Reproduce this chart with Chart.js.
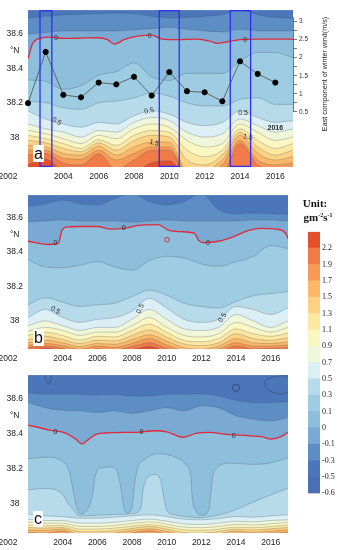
<!DOCTYPE html>
<html>
<head>
<meta charset="utf-8">
<script src="https://cdn.jsdelivr.net/npm/chart.js@4.4.1/dist/chart.umd.min.js"></script>
<style>
  body { margin: 0; background: #fff; }
  #wrap { position: relative; width: 338px; height: 550px; overflow: hidden; font-family: 'Liberation Sans', Arial, sans-serif; }
  canvas { position: absolute; }
  .tag { position: absolute; background: #fff; font-size: 16px; line-height: 17px; padding: 0 1px; color: #111; }
  .unit { position: absolute; font-family: 'Liberation Serif', 'Times New Roman', serif; font-weight: bold; font-size: 11px; color: #111; transform: translate(-50%, -50%); white-space: nowrap; }
  .unit sup { font-size: 6px; vertical-align: 4px; }
  #windTitle { position: absolute; left: 324px; top: 74px; font-size: 7.2px; color: #222; white-space: nowrap; transform: translate(-50%, -50%) rotate(-90deg); }
</style>
</head>
<body>
<div id="wrap">
  <canvas id="chartA" width="338" height="185" style="left:0;top:0"></canvas>
  <canvas id="chartB" width="293" height="180" style="left:0;top:185px"></canvas>
  <canvas id="chartC" width="293" height="185" style="left:0;top:365px"></canvas>
  <canvas id="cbar" width="38" height="275" style="left:300px;top:225px"></canvas>
  <div class="tag" style="left:33px;top:145px">a</div>
  <div class="tag" style="left:33px;top:329px">b</div>
  <div class="tag" style="left:33px;top:511px;line-height:16px">c</div>
  <div id="windTitle">East component of winter wind(m/s)</div>
  <div class="unit" style="left:315px;top:203px">Unit:</div>
  <div class="unit" style="left:318px;top:217px">gm<sup>-2</sup>s<sup>-1</sup></div>
</div>
<script>
// ---------- data ----------
var years = [2002, 2003, 2004, 2005, 2006, 2007, 2008, 2009, 2010, 2011, 2012, 2013, 2014, 2015, 2016, 2017];
var yearTicks = [2002, 2004, 2006, 2008, 2010, 2012, 2014, 2016];
var latTicks = [38, 38.2, 38.4, 38.5, 38.6];

var windYears = [2002, 2003, 2004, 2005, 2006, 2007, 2008, 2009, 2010, 2011, 2012, 2013, 2014, 2015, 2016];
var windSpeed = [0.74, 2.16, 0.97, 0.90, 1.31, 1.26, 1.47, 0.95, 1.60, 1.07, 1.04, 0.79, 1.90, 1.55, 1.31];
var windTicks = [0.5, 0.75, 1, 1.25, 1.5, 1.75, 2, 2.25, 2.5, 2.75, 3];
var ensoSpans = [[2002.68, 2003.35], [2009.43, 2010.56], [2013.45, 2014.6]];

var cbarLabels = ['-0.6', '-0.5', '-0.3', '-0.1', '0', '0.1', '0.3', '0.5', '0.7', '0.9', '1.1', '1.3', '1.5', '1.7', '1.9', '2.2'];

// panel a: latitude of each contour level per year
var aM03 = [38.688, 38.697, 38.705, 38.708, 38.712, 38.716, 38.712, 38.697, 38.688, 38.690, 38.697, 38.706, 38.735, 38.706, 38.690, 38.686];
var aM01 = [38.594, 38.604, 38.613, 38.613, 38.613, 38.613, 38.619, 38.626, 38.632, 38.622, 38.613, 38.607, 38.622, 38.613, 38.613, 38.613];
var aZeroX = [2002, 2002.25, 2002.7, 2003.3, 2004, 2005, 2006, 2006.5, 2006.9, 2007.5, 2008.3, 2009, 2009.6, 2010.5, 2011.5, 2012.3, 2012.7, 2013.3, 2014, 2015, 2016, 2017];
var aZero = [38.454, 38.538, 38.570, 38.578, 38.570, 38.572, 38.574, 38.563, 38.538, 38.566, 38.585, 38.589, 38.566, 38.563, 38.566, 38.555, 38.542, 38.551, 38.563, 38.566, 38.566, 38.566];
var aP01 = [38.333, 38.324, 38.28, 38.30, 38.36, 38.38, 38.43, 38.35, 38.33, 38.37, 38.37, 38.37, 38.44, 38.49, 38.49, 38.46];
var aP03 = [38.212, 38.202, 38.174, 38.165, 38.202, 38.212, 38.230, 38.258, 38.240, 38.202, 38.184, 38.184, 38.221, 38.230, 38.193, 38.193];
var aP05 = [38.156, 38.109, 38.081, 38.062, 38.090, 38.081, 38.128, 38.156, 38.137, 38.090, 38.072, 38.090, 38.156, 38.118, 38.090, 38.100];
var aP07 = [38.081, 38.053, 38.034, 38.006, 38.044, 38.034, 38.090, 38.118, 38.100, 38.034, 38.006, 38.025, 38.109, 38.072, 38.034, 38.053];
var aP09 = [38.044, 38.025, 37.997, 37.969, 38.016, 37.997, 38.053, 38.081, 38.062, 37.987, 37.950, 37.969, 38.081, 38.034, 37.987, 38.006];
var aP11 = [38.016, 37.997, 37.969, 37.941, 37.991, 37.959, 38.016, 38.044, 38.034, 37.931, 37.894, 37.931, 38.053, 37.987, 37.941, 37.969];
var aP13 = [37.987, 37.973, 37.941, 37.922, 37.973, 37.931, 37.987, 38.016, 38.006, 37.875, 37.847, 37.903, 38.034, 37.950, 37.903, 37.931];
var aP15 = [37.959, 37.950, 37.913, 37.903, 37.954, 37.903, 37.950, 37.978, 37.978, 37.82, 37.82, 37.875, 38.016, 37.913, 37.875, 37.894];
var aP17 = [37.931, 37.931, 37.885, 37.879, 37.931, 37.875, 37.913, 37.950, 37.950, 37.80, 37.80, 37.847, 37.987, 37.875, 37.847, 37.857];
var aP19 = [37.903, 37.913, 37.857, 37.847, 37.910, 37.82, 37.875, 37.931, 37.931, 37.79, 37.79, 37.80, 37.969, 37.847, 37.82, 37.82];
var aP22 = [37.85, 37.88, 37.81, 37.79, 37.80, 37.78, 37.80, 37.86, 37.87, 37.78, 37.78, 37.78, 37.78, 37.78, 37.78, 37.78];

// panel b
var bM03 = [38.666, 38.681, 38.703, 38.681, 38.675, 38.712, 38.741, 38.694, 38.675, 38.694, 38.741, 38.647, 38.624, 38.628, 38.624, 38.619];
var bM01 = [38.577, 38.581, 38.587, 38.581, 38.581, 38.581, 38.575, 38.581, 38.587, 38.581, 38.581, 38.581, 38.581, 38.587, 38.587, 38.581];
var bZeroX = [2002, 2003.2, 2003.75, 2003.95, 2004.3, 2005, 2006, 2006.8, 2007.5, 2008.5, 2009.5, 2010.1, 2010.8, 2011.6, 2011.85, 2012.1, 2013, 2013.8, 2014.7, 2015.5, 2016.3, 2016.85, 2017];
var bZero = [38.463, 38.444, 38.450, 38.525, 38.547, 38.549, 38.549, 38.534, 38.538, 38.557, 38.560, 38.528, 38.519, 38.510, 38.468, 38.455, 38.463, 38.487, 38.525, 38.538, 38.534, 38.511, 38.478];
var bP01 = [38.355, 38.313, 38.309, 38.324, 38.343, 38.313, 38.294, 38.350, 38.375, 38.365, 38.331, 38.318, 38.343, 38.375, 38.437, 38.421];
var bP03 = [38.093, 38.134, 38.108, 38.083, 38.093, 38.102, 38.140, 38.177, 38.149, 38.102, 38.083, 38.074, 38.112, 38.145, 38.158, 38.168];
var bP05 = [38.018, 38.065, 38.018, 37.990, 38.008, 38.018, 38.055, 38.130, 38.074, 38.008, 37.990, 38.008, 38.083, 38.065, 38.036, 38.074];
var bP07 = [37.971, 37.999, 37.971, 37.943, 37.961, 37.961, 38.008, 38.065, 38.008, 37.952, 37.943, 37.961, 38.036, 37.999, 37.961, 37.999];
var bP09 = [37.939, 37.961, 37.943, 37.914, 37.933, 37.933, 37.971, 38.018, 37.961, 37.914, 37.905, 37.924, 37.990, 37.961, 37.933, 37.961];
var bP11 = [37.914, 37.933, 37.914, 37.886, 37.909, 37.905, 37.943, 37.980, 37.933, 37.886, 37.877, 37.896, 37.952, 37.924, 37.909, 37.928];
var bP13 = [37.890, 37.909, 37.890, 37.867, 37.886, 37.882, 37.914, 37.946, 37.905, 37.864, 37.854, 37.871, 37.924, 37.896, 37.886, 37.901];
var bP15 = [37.871, 37.886, 37.871, 37.849, 37.867, 37.862, 37.890, 37.918, 37.881, 37.843, 37.834, 37.852, 37.896, 37.871, 37.867, 37.877];
var bP17 = [37.856, 37.867, 37.854, 37.834, 37.852, 37.845, 37.867, 37.896, 37.858, 37.826, 37.820, 37.836, 37.871, 37.852, 37.852, 37.858];
var bP19 = [37.843, 37.852, 37.839, 37.820, 37.837, 37.830, 37.849, 37.871, 37.839, 37.811, 37.811, 37.820, 37.852, 37.836, 37.839, 37.843];
var bP22 = [37.826, 37.839, 37.826, 37.811, 37.820, 37.811, 37.830, 37.849, 37.820, 37.802, 37.802, 37.807, 37.826, 37.820, 37.826, 37.826];
var bLoopX = [2010.02];
var bLoop = [38.472];

// panel c
var cM03 = [38.632, 38.623, 38.623, 38.623, 38.619, 38.623, 38.613, 38.613, 38.623, 38.623, 38.626, 38.613, 38.589, 38.576, 38.576, 38.581];
var cM01 = [38.576, 38.547, 38.532, 38.529, 38.519, 38.529, 38.514, 38.529, 38.547, 38.529, 38.557, 38.547, 38.501, 38.482, 38.472, 38.491];
var cZeroX = [2002, 2003.25, 2004.2, 2004.75, 2005.1, 2005.4, 2005.9, 2006.45, 2007.55, 2008.3, 2009.25, 2010, 2010.95, 2011.7, 2012.45, 2013.6, 2014.7, 2015.45, 2016.05, 2016.6, 2017];
var cZero = [38.448, 38.420, 38.401, 38.369, 38.341, 38.360, 38.394, 38.403, 38.407, 38.407, 38.416, 38.410, 38.379, 38.401, 38.407, 38.394, 38.388, 38.382, 38.369, 38.382, 38.407];
var cP01X = [2002, 2003.13, 2003.89, 2004.36, 2004.6, 2004.83, 2005.06, 2005.4, 2005.74, 2005.87, 2006.25, 2006.81, 2007.19, 2007.38, 2007.51, 2007.75, 2008.0, 2008.13, 2008.32, 2008.79, 2009.55, 2010.49, 2011.15, 2011.4, 2011.47, 2011.72, 2012.04, 2012.42, 2012.57, 2012.65, 2012.85, 2013.7, 2014.83, 2015.77, 2017];
var cP01 = [38.257, 38.266, 38.247, 38.191, 38.079, 37.975, 37.944, 37.966, 38.060, 38.154, 38.206, 38.210, 38.172, 38.079, 37.985, 37.951, 37.985, 38.097, 38.200, 38.257, 38.285, 38.266, 38.219, 38.154, 38.041, 37.957, 37.935, 37.966, 38.079, 38.154, 38.200, 38.232, 38.225, 38.229, 38.262];
var cP03X = [2002, 2002.94, 2003.89, 2004.45, 2005.02, 2005.77, 2006.91, 2008.04, 2008.51, 2008.64, 2008.94, 2009.32, 2009.64, 2009.83, 2010.02, 2010.49, 2011.81, 2012.75, 2013.7, 2014.83, 2015.96, 2017];
var cP03 = [38.079, 38.088, 38.064, 37.985, 37.932, 37.935, 37.940, 37.945, 37.975, 38.079, 38.154, 38.167, 38.139, 38.041, 37.960, 37.938, 37.922, 37.932, 37.957, 38.004, 38.050, 38.088];
var cP05 = [37.943, 37.932, 37.928, 37.919, 37.919, 37.925, 37.932, 37.938, 37.928, 37.913, 37.910, 37.917, 37.928, 37.925, 37.932, 37.938];
var cP07 = [37.913, 37.906, 37.906, 37.891, 37.891, 37.896, 37.906, 37.913, 37.902, 37.887, 37.883, 37.891, 37.902, 37.898, 37.906, 37.910];
var cP09 = [37.896, 37.891, 37.891, 37.872, 37.872, 37.878, 37.889, 37.898, 37.885, 37.868, 37.865, 37.872, 37.883, 37.880, 37.887, 37.895];
var cP11 = [37.881, 37.876, 37.878, 37.857, 37.857, 37.863, 37.874, 37.883, 37.870, 37.853, 37.850, 37.857, 37.868, 37.865, 37.872, 37.880];
var cP13 = [37.866, 37.863, 37.866, 37.842, 37.842, 37.848, 37.861, 37.872, 37.857, 37.838, 37.835, 37.844, 37.857, 37.851, 37.859, 37.866];
var cP15 = [37.853, 37.850, 37.857, 37.825, 37.825, 37.835, 37.848, 37.859, 37.844, 37.825, 37.820, 37.831, 37.846, 37.838, 37.846, 37.853];
var cP17 = [37.838, 37.835, 37.846, 37.806, 37.806, 37.816, 37.835, 37.848, 37.829, 37.806, 37.806, 37.816, 37.833, 37.823, 37.833, 37.840];
var cP19 = [37.816, 37.816, 37.831, 37.788, 37.788, 37.79, 37.816, 37.833, 37.815, 37.788, 37.788, 37.79, 37.816, 37.806, 37.816, 37.820];
var cRightLoopX = [2017, 2016.41, 2015.85, 2015.66, 2015.94, 2016.6, 2017];
var cRightLoop = [38.632, 38.626, 38.651, 38.688, 38.716, 38.728, 38.726];
var cNotchX = [2002.95, 2003.05, 2003.2, 2003.3, 2003.35];
var cNotch = [38.74, 38.70, 38.68, 38.70, 38.74];
var cSpotX = [2014.0];
var cSpot = [38.66];

// contour labels: [year, lat, text, angle, bold]
var aLabels = [[2003.58, 38.570, '0', 0], [2008.89, 38.585, '0', 0], [2014.3, 38.559, '0', 0],
  [2003.62, 38.096, '0.5', 30], [2008.86, 38.156, '0.5', -12], [2014.17, 38.142, '0.5', 0],
  [2009.14, 37.973, '1.5', 15], [2014.45, 38.006, '1.5', 10], [2016.0, 38.055, '2016', 0, true]];
var bLabels = [[2003.58, 38.450, '0', 0], [2007.52, 38.538, '0', 0], [2012.38, 38.455, '0', 0],
  [2003.58, 38.061, '0.5', 30], [2008.48, 38.070, '0.5', -65], [2013.22, 38.018, '0.5', -60]];
var cLabels = [[2003.58, 38.411, '0', 0], [2008.55, 38.407, '0', 0], [2013.87, 38.388, '0', 0]];

// ---------- styles ----------
var latMin = 37.835, latMax = 38.732;
var sans = "'Liberation Sans', Arial, sans-serif";
var serif = "'Liberation Serif', 'Times New Roman', serif";
var lineGrey = 'rgba(60,75,95,0.45)';
var zeroRed = '#e3283a';
var colM06 = '#4a6fb3', colM05 = '#4b76b9', colM03 = '#5c8dc5', colM01 = '#7aaad4',
    col00 = '#8dbedc', col01 = '#9ecce3', col03 = '#b7dbea', col05 = '#dbeff5',
    col07 = '#eff6da', col09 = '#fbf7c2', col11 = '#fde8a3', col13 = '#fdd284',
    col15 = '#fbb868', col17 = '#f89a57', col19 = '#f07a48', col22 = '#e3502e';
var cbarColors = [colM06, colM05, colM03, colM01, col00, col01, col03, col05, col07, col09, col11, col13, col15, col17, col19, col22];

Chart.defaults.font.family = sans;

function pts(xs, ys) {
  return ys.map(function (v, i) { return { x: xs[i], y: v }; });
}

// every contour line fills down to the bottom; later (lower) ones paint over
function bandSets(list) {
  return list.map(function (b, i) {
    return {
      data: pts(b[0], b[1]),
      fill: 'start',
      backgroundColor: b[2],
      borderColor: b[3] || lineGrey,
      borderWidth: b[4] || 0.6,
      pointRadius: 0,
      cubicInterpolationMode: 'monotone',
      clip: 0,
      order: -i
    };
  });
}

function outlineSet(xs, ys, color, width) {
  return {
    data: pts(xs, ys), fill: false, borderColor: color, borderWidth: width,
    pointRadius: 0, tension: 0.4, clip: 0, order: -100
  };
}

function spotSet(xs, ys, color, r) {
  return {
    data: pts(xs, ys), showLine: false, fill: false, pointRadius: r, pointStyle: 'circle',
    pointBorderColor: color, pointBackgroundColor: 'rgba(0,0,0,0)', pointBorderWidth: 1,
    borderColor: color, clip: 0, order: -100
  };
}

function decor(d) {
  return {
    id: 'decor',
    beforeDatasetsDraw: function (chart) {
      var a = chart.chartArea, ctx = chart.ctx;
      ctx.save();
      ctx.fillStyle = colM05;
      ctx.fillRect(a.left, a.top, a.right - a.left, a.bottom - a.top);
      ctx.restore();
    },
    afterDatasetsDraw: function (chart) {
      var ctx = chart.ctx, a = chart.chartArea, xs = chart.scales.x, ys = chart.scales.y;
      ctx.save();
      ctx.fillStyle = '#2a2a2a';
      ctx.textAlign = 'center';
      ctx.textBaseline = 'middle';
      d.labels.forEach(function (l) {
        ctx.save();
        ctx.translate(xs.getPixelForValue(l[0]), ys.getPixelForValue(l[1]));
        ctx.rotate((l[3] || 0) * Math.PI / 180);
        ctx.font = (l[4] ? 'bold ' : '') + '7px ' + sans;
        ctx.fillText(l[2], 0, 0);
        ctx.restore();
      });
      if (d.spans) {
        ctx.strokeStyle = '#2f2ff0';
        ctx.lineWidth = 1.3;
        d.spans.forEach(function (s) {
          var x0 = xs.getPixelForValue(s[0]), x1 = xs.getPixelForValue(s[1]);
          ctx.strokeRect(x0, a.top + 0.6, x1 - x0, a.bottom - a.top - 1.2);
        });
      }
      var yw = chart.scales.yWind;
      if (yw) {
        ctx.strokeStyle = '#555';
        ctx.lineWidth = 0.8;
        ctx.beginPath();
        ctx.moveTo(a.right + 0.5, yw.getPixelForValue(windTicks[0]));
        ctx.lineTo(a.right + 0.5, yw.getPixelForValue(3.12));
        ctx.stroke();
      }
      ctx.restore();
    },
    afterDraw: function (chart) {
      // first year label sits left of the plot, as in the figure
      var ctx = chart.ctx, xs = chart.scales.x;
      ctx.save();
      ctx.font = '8.5px ' + sans;
      ctx.fillStyle = '#222';
      ctx.textAlign = 'right';
      ctx.textBaseline = 'middle';
      ctx.fillText(String(yearTicks[0]), chart.chartArea.left - 10.5, xs.top + 5 + 5.1);
      ctx.restore();
    }
  };
}

function makePanel(id, list, extras, d, padTop, xHeight, withWind) {
  var scales = {
    x: {
      type: 'linear', min: 2002, max: 2017,
      afterBuildTicks: function (s) { s.ticks = yearTicks.map(function (v) { return { value: v }; }); },
      afterFit: function (s) { s.height = xHeight; },
      grid: { display: false, drawTicks: false }, border: { display: false },
      ticks: {
        padding: 5, maxRotation: 0, autoSkip: false, color: '#222', font: { size: 8.5 },
        callback: function (v) { return v === yearTicks[0] ? '' : String(v); }
      }
    },
    y: {
      min: latMin, max: latMax,
      afterBuildTicks: function (s) { s.ticks = latTicks.map(function (v) { return { value: v }; }); },
      afterFit: function (s) { s.width = 28; },
      grid: { display: false, drawTicks: false }, border: { display: false },
      ticks: {
        padding: 5, crossAlign: 'center', color: '#222', font: { size: 8.5 },
        callback: function (v) { return v === 38.5 ? '°N' : String(+v.toFixed(1)); }
      }
    }
  };
  if (withWind) {
    scales.yWind = {
      position: 'right', min: -1.03, max: 3.318,
      afterBuildTicks: function (s) { s.ticks = windTicks.map(function (v) { return { value: v }; }); },
      afterFit: function (s) { s.width = 45; },
      grid: { drawOnChartArea: false, drawTicks: true, tickLength: 4, color: '#555', lineWidth: 0.8 },
      border: { display: false },
      ticks: {
        padding: 2, color: '#333', font: { size: 6.5 },
        callback: function (v) { return Math.abs(v * 2 - Math.round(v * 2)) < 1e-6 ? String(v) : ''; }
      }
    };
  }
  return new Chart(document.getElementById(id), {
    type: 'line',
    data: { datasets: bandSets(list).concat(extras) },
    options: {
      responsive: false, animation: false, events: [],
      layout: { padding: { top: padTop, left: 0, right: 0, bottom: 0 } },
      plugins: { legend: { display: false }, tooltip: { enabled: false } },
      scales: scales
    },
    plugins: [decor(d)]
  });
}

// ---------- panel a ----------
makePanel('chartA', [
  [years, aM03, colM03], [years, aM01, colM01], [aZeroX, aZero, col00, zeroRed, 1.3],
  [years, aP01, col01], [years, aP03, col03], [years, aP05, col05], [years, aP07, col07],
  [years, aP09, col09], [years, aP11, col11], [years, aP13, col13], [years, aP15, col15],
  [years, aP17, col17], [years, aP19, col19], [years, aP22, col22]
], [{
  data: pts(windYears, windSpeed), yAxisID: 'yWind', fill: false,
  borderColor: '#5a5a5a', borderWidth: 0.9, tension: 0,
  pointRadius: 2.6, pointBackgroundColor: '#000', pointBorderColor: '#000',
  clip: false, order: -101
}], { labels: aLabels, spans: ensoSpans }, 7, 18, true);

// ---------- panel b ----------
makePanel('chartB', [
  [years, bM03, colM03], [years, bM01, colM01], [bZeroX, bZero, col00, zeroRed, 1.3],
  [years, bP01, col01], [years, bP03, col03], [years, bP05, col05], [years, bP07, col07],
  [years, bP09, col09], [years, bP11, col11], [years, bP13, col13], [years, bP15, col15],
  [years, bP17, col17], [years, bP19, col19], [years, bP22, col22]
], [spotSet(bLoopX, bLoop, zeroRed, 2.3)], { labels: bLabels }, 5, 16, false);

// ---------- panel c ----------
makePanel('chartC', [
  [years, cM03, colM03], [years, cM01, colM01], [cZeroX, cZero, col00, zeroRed, 1.3],
  [cP01X, cP01, col01], [cP03X, cP03, col03], [years, cP05, col05], [years, cP07, col07],
  [years, cP09, col09], [years, cP11, col11], [years, cP13, col13], [years, cP15, col15],
  [years, cP17, col17], [years, cP19, col19]
], [
  outlineSet(cRightLoopX, cRightLoop, 'rgba(40,50,70,0.6)', 0.7),
  outlineSet(cNotchX, cNotch, 'rgba(40,50,70,0.6)', 0.7),
  spotSet(cSpotX, cSpot, 'rgba(40,50,70,0.6)', 3.5)
], { labels: cLabels }, 9, 17, false);

// ---------- colour bar ----------
new Chart(document.getElementById('cbar'), {
  type: 'bar',
  data: {
    labels: [''],
    datasets: cbarColors.map(function (c) {
      return { data: [1], backgroundColor: c, borderWidth: 0, barPercentage: 1, categoryPercentage: 1 };
    })
  },
  options: {
    responsive: false, animation: false, events: [],
    layout: { padding: { left: 8, top: 6, bottom: 5, right: 0 } },
    plugins: { legend: { display: false }, tooltip: { enabled: false } },
    scales: {
      x: { display: false, stacked: true },
      y: {
        stacked: true, position: 'right', min: 0, max: cbarLabels.length, z: 1,
        afterBuildTicks: function (s) { s.ticks = cbarLabels.map(function (t, i) { return { value: i }; }); },
        afterFit: function (s) { s.width = 18; },
        grid: { color: 'rgba(70,70,70,0.35)', lineWidth: 0.8, drawTicks: false },
        border: { display: false },
        ticks: {
          padding: 2, color: '#222', font: { family: serif, size: 8 },
          callback: function (v) { return cbarLabels[v]; }
        }
      }
    }
  }
});
</script>
</body>
</html>
